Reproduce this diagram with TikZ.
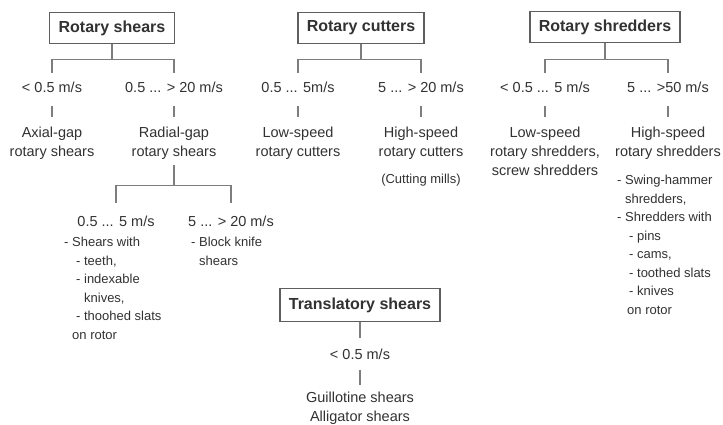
\documentclass[tikz,border=0pt]{standalone}
\usepackage{fontspec}
\setmainfont{Liberation Sans}
\usepackage{tikz}
\usetikzlibrary{positioning}

\begin{document}
\begin{tikzpicture}[
    x=1pt, y=-1pt,
    node distance=31pt,
    title/.style={
        rectangle,
        draw=framegray,
        line width=1.6pt,
        text=inkgray,
        inner xsep=9pt,
        minimum height=31pt,
        font=\fontsize{16}{19}\selectfont\bfseries
    },
    speed/.style={
        text=inkgray,
        inner sep=0pt,
        text height=11pt,
        text depth=3pt,
        font=\fontsize{14.5}{19}\selectfont
    },
    kind/.style={
        text=inkgray,
        inner sep=0pt,
        align=center,
        font=\fontsize{14.5}{19}\selectfont
    },
    note/.style={
        text=inkgray,
        inner sep=0pt,
        align=left,
        anchor=north west,
        font=\fontsize{13}{18.5}\selectfont
    },
    link/.style={draw=linegray, line width=1.2pt}
]

% Colors
\definecolor{inkgray}{RGB}{50,50,50}
\definecolor{linegray}{RGB}{125,125,125}
\definecolor{framegray}{RGB}{95,95,95}

\fill[white] (0,0) rectangle (723,425);
\useasboundingbox (0,0) rectangle (723,425);

% Row 1
\node[title] (rs) at (112,28) {Rotary shears};
\node[title] (rc) at (361,28) {Rotary cutters};
\node[title] (rsh) at (605,27) {Rotary shredders};

% Speeds
\node[speed] (rsSlow) at (52,89) {< 0.5 m/s};
\node[speed] (rsFast) at (174,89) {0.5 ... > 20 m/s};
\node[speed] (rcSlow) at (298,89) {0.5 ... 5m/s};
\node[speed] (rcFast) at (421,89) {5 ... > 20 m/s};
\node[speed] (rshSlow) at (545,89) {< 0.5 ... 5 m/s};
\node[speed] (rshFast) at (668,89) {5 ... >50 m/s};

% Row 2
\node[kind, below=of rsSlow] (axial) {Axial-gap\\rotary shears};
\node[kind, below=of rsFast] (radial) {Radial-gap\\rotary shears};
\node[kind, below=of rcSlow] (lowCut) {Low-speed\\rotary cutters};
\node[kind, below=of rcFast] (highCut) {High-speed\\rotary cutters\\[8pt]
    {\fontsize{13}{19}\selectfont (Cutting mills)}};
\node[kind, below=of rshSlow] (lowShred) {Low-speed\\rotary shredders,\\screw shredders};
\node[kind, below=of rshFast] (highShred) {High-speed\\rotary shredders};

\node[note] (highShredNote) at (617,175) {- Swing-hammer\\
\phantom{- }shredders,\\
- Shredders with\\
\hspace{12pt}- pins\\
\hspace{12pt}- cams,\\
\hspace{12pt}- toothed slats\\
\hspace{12pt}- knives\\
\hspace{10pt}on rotor};

% Row 3
\node[speed] (rgSlow) at (116,222) {0.5 ... 5 m/s};
\node[speed] (rgFast) at (231,222) {5 ... > 20 m/s};

\node[note] (rgSlowNote) at (64,237) {- Shears with\\
\hspace{12pt}- teeth,\\
\hspace{12pt}- indexable\\
\hspace{12pt}\phantom{- }knives,\\
\hspace{12pt}- thoohed slats\\
\hspace{8pt}on rotor};
\node[note] (rgFastNote) at (191,237) {- Block knife\\
\phantom{- }shears};

% Row 4
\node[title, minimum height=33pt] (ts) at (360,305) {Translatory shears};
\node[speed, below=26pt of ts] (tsSlow) {< 0.5 m/s};
\node[kind, below=29pt of tsSlow] (cutTypes) {Guillotine shears\\Alligator shears};

% Links
\draw[link, shorten >=9pt] (rs.south) -- ++(0,15) -| (rsSlow.north);
\draw[link, shorten >=9pt] (rs.south) -- ++(0,15) -| (rsFast.north);
\draw[link, shorten >=9pt] (rc.south) -- ++(0,15) -| (rcSlow.north);
\draw[link, shorten >=9pt] (rc.south) -- ++(0,15) -| (rcFast.north);
\draw[link, shorten >=9pt] (rsh.south) -- ++(0,16) -| (rshSlow.north);
\draw[link, shorten >=9pt] (rsh.south) -- ++(0,16) -| (rshFast.north);

\draw[link, shorten <=10pt, shorten >=10pt] (rsSlow) -- (axial);
\draw[link, shorten <=10pt, shorten >=10pt] (rsFast) -- (radial);
\draw[link, shorten <=10pt, shorten >=10pt] (rcSlow) -- (lowCut);
\draw[link, shorten <=10pt, shorten >=10pt] (rcFast) -- (highCut);
\draw[link, shorten <=10pt, shorten >=10pt] (rshSlow) -- (lowShred);
\draw[link, shorten <=10pt, shorten >=10pt] (rshFast) -- (highShred);

\draw[link, shorten >=12pt] ([yshift=-5pt]radial.south) -- ++(0,20) -| (rgSlow.north);
\draw[link, shorten >=12pt] ([yshift=-5pt]radial.south) -- ++(0,20) -| (rgFast.north);

\draw[link, shorten >=10pt] (ts) -- (tsSlow);
\draw[link, shorten <=7pt, shorten >=7pt] (tsSlow) -- (cutTypes);

\end{tikzpicture}
\end{document}
